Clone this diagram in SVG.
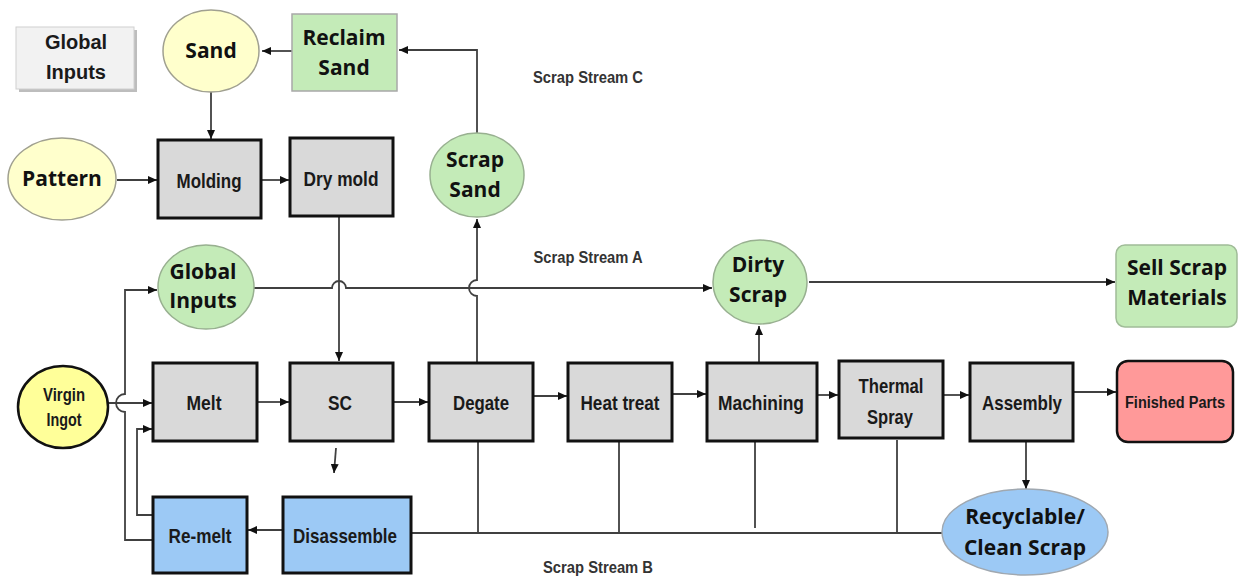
<svg xmlns="http://www.w3.org/2000/svg" width="1239" height="577" viewBox="0 0 1239 577">
<defs>
<marker id="arr" markerUnits="userSpaceOnUse" markerWidth="9" markerHeight="8" refX="9" refY="4" orient="auto">
<path d="M0,0 L9,4 L0,8 z" fill="#111"/>
</marker>
<style>
.box{fill:#d9d9d9;stroke:#111;stroke-width:3}
.blue{fill:#9cc9f5;stroke:#111;stroke-width:3}
.yel{fill:#ffffcc;stroke:#a0a090;stroke-width:1.5}
.grn{fill:#c4ebb8;stroke:#98b090;stroke-width:1.5}
.shadow{fill:#bdbdbd}
.lbl{font-family:"Liberation Sans Narrow","Liberation Sans",Arial,sans-serif;font-weight:bold;font-size:21px;fill:#1a1a1a;text-anchor:middle}
.sm{font-size:18px}
.xs{font-size:16px}
.rnd{font-family:"Open Sans","Noto Sans",sans-serif;font-weight:bold;font-size:21px;fill:#111;text-anchor:middle}
.ar{font-family:"Liberation Sans",Arial,sans-serif;font-weight:bold;font-size:20px;fill:#1a1a1a;text-anchor:middle}
.strm{font-family:"Liberation Sans Narrow","Liberation Sans",Arial,sans-serif;font-weight:bold;font-size:17px;fill:#333;text-anchor:middle}
.ln{fill:none;stroke:#404040;stroke-width:1.8}
</style>
</defs>
<rect width="1239" height="577" fill="#fff"/>

<g id="connectors">
<path class="ln" d="M292,51 H262" marker-end="url(#arr)"/>
<path class="ln" d="M477,133 V50 H399" marker-end="url(#arr)"/>
<path class="ln" d="M211,92 V139" marker-end="url(#arr)"/>
<path class="ln" d="M117,180 H157" marker-end="url(#arr)"/>
<path class="ln" d="M261,180 H289" marker-end="url(#arr)"/>
<path class="ln" d="M339,216 V361" marker-end="url(#arr)"/>
<path class="ln" d="M254,288 H332 A7,7 0 0 1 346,288 H712" marker-end="url(#arr)"/>
<path class="ln" d="M477,363 V296 A8,8 0 0 1 477,280 V219" marker-end="url(#arr)"/>
<path class="ln" d="M809,282 H1115" marker-end="url(#arr)"/>
<path class="ln" d="M759,363 V326" marker-end="url(#arr)"/>
<path class="ln" d="M108,403 H152" marker-end="url(#arr)"/>
<path class="ln" d="M153,540 H125 V412 A9,9 0 0 1 125,394 V290 H157" marker-end="url(#arr)"/>
<path class="ln" d="M153,515 H137 V429 H152" marker-end="url(#arr)"/>
<path class="ln" d="M257,402 H289" marker-end="url(#arr)"/>
<path class="ln" d="M393,402 H428" marker-end="url(#arr)"/>
<path class="ln" d="M533,396 H567" marker-end="url(#arr)"/>
<path class="ln" d="M672,394 H706" marker-end="url(#arr)"/>
<path class="ln" d="M817,395 H838" marker-end="url(#arr)"/>
<path class="ln" d="M943,395 H969" marker-end="url(#arr)"/>
<path class="ln" d="M1073,392 H1116" marker-end="url(#arr)"/>
<path class="ln" d="M1026,441 V489" marker-end="url(#arr)"/>
<path class="ln" d="M336,448 L334,473" marker-end="url(#arr)"/>
<path class="ln" d="M283,530 H248" marker-end="url(#arr)"/>
<path class="ln" d="M411,533 H942"/>
<path class="ln" d="M478,441 V533 M619,437 V533 M755,441 V528 M897,440 V533"/>
<text class="strm" x="588" y="83" textLength="110" lengthAdjust="spacingAndGlyphs">Scrap Stream C</text>
<text class="strm" x="588" y="263" textLength="109" lengthAdjust="spacingAndGlyphs">Scrap Stream A</text>
<text class="strm" x="598" y="573" textLength="110" lengthAdjust="spacingAndGlyphs">Scrap Stream B</text>
</g>

<g id="global-inputs-legend">
<rect x="19" y="30" width="118" height="62" class="shadow"/>
<rect x="16" y="27" width="118" height="62" fill="#f2f2f2" stroke="#d0d0d0" stroke-width="1"/>
<text class="ar" x="76" y="49">Global</text>
<text class="ar" x="76" y="79">Inputs</text>
</g>

<g id="sand">
<ellipse cx="211" cy="51" rx="48" ry="41" class="yel"/>
<text class="rnd" x="211" y="58">Sand</text>
</g>

<g id="reclaim-sand">
<rect x="292" y="14" width="105" height="77" fill="#c4ebb8" stroke="#a8a8a8" stroke-width="1.5"/>
<text class="rnd" x="344" y="45">Reclaim</text>
<text class="rnd" x="344" y="75">Sand</text>
</g>

<g id="pattern">
<ellipse cx="62" cy="179" rx="54" ry="41" class="yel"/>
<text class="rnd" x="62" y="186">Pattern</text>
</g>

<g id="molding">
<rect x="158" y="140" width="103" height="78" class="box"/>
<text class="lbl" x="209" y="188" textLength="65" lengthAdjust="spacingAndGlyphs">Molding</text>
</g>

<g id="dry-mold">
<rect x="290" y="138" width="103" height="78" class="box"/>
<text class="lbl" x="341" y="186" textLength="75" lengthAdjust="spacingAndGlyphs">Dry mold</text>
</g>

<g id="scrap-sand">
<ellipse cx="477" cy="175" rx="47" ry="42" class="grn"/>
<text class="rnd" x="475" y="167">Scrap</text>
<text class="rnd" x="475" y="197">Sand</text>
</g>

<g id="global-inputs">
<ellipse cx="206" cy="287" rx="48" ry="42" class="grn"/>
<text class="rnd" x="203" y="279">Global</text>
<text class="rnd" x="203" y="308">Inputs</text>
</g>

<g id="dirty-scrap">
<ellipse cx="760" cy="282" rx="47" ry="42" class="grn"/>
<text class="rnd" x="758" y="272">Dirty</text>
<text class="rnd" x="758" y="302">Scrap</text>
</g>

<g id="sell-scrap">
<rect x="1116" y="245" width="121" height="82" rx="9" fill="#c4ebb8" stroke="#a0bc98" stroke-width="1.5"/>
<text class="rnd" x="1177" y="275">Sell Scrap</text>
<text class="rnd" x="1177" y="305">Materials</text>
</g>

<g id="virgin-ingot">
<ellipse cx="63" cy="407" rx="45" ry="41" fill="#ffff99" stroke="#111" stroke-width="2.5"/>
<text class="lbl sm" x="64" y="401" textLength="42" lengthAdjust="spacingAndGlyphs">Virgin</text>
<text class="lbl sm" x="64" y="426" textLength="35" lengthAdjust="spacingAndGlyphs">Ingot</text>
</g>

<g id="melt">
<rect x="153" y="363" width="104" height="78" class="box"/>
<text class="lbl" x="204" y="410" textLength="35" lengthAdjust="spacingAndGlyphs">Melt</text>
</g>

<g id="sc">
<rect x="290" y="363" width="103" height="78" class="box"/>
<text class="lbl" x="340" y="410" textLength="24" lengthAdjust="spacingAndGlyphs">SC</text>
</g>

<g id="degate">
<rect x="429" y="363" width="104" height="78" class="box"/>
<text class="lbl" x="481" y="410" textLength="56" lengthAdjust="spacingAndGlyphs">Degate</text>
</g>

<g id="heat-treat">
<rect x="568" y="363" width="104" height="78" class="box"/>
<text class="lbl" x="620" y="410" textLength="79" lengthAdjust="spacingAndGlyphs">Heat treat</text>
</g>

<g id="machining">
<rect x="707" y="363" width="110" height="78" class="box"/>
<text class="lbl" x="761" y="410" textLength="86" lengthAdjust="spacingAndGlyphs">Machining</text>
</g>

<g id="thermal-spray">
<rect x="839" y="361" width="104" height="77" class="box"/>
<text class="lbl" x="891" y="393" textLength="65" lengthAdjust="spacingAndGlyphs">Thermal</text>
<text class="lbl" x="890" y="424" textLength="46" lengthAdjust="spacingAndGlyphs">Spray</text>
</g>

<g id="assembly">
<rect x="970" y="363" width="103" height="78" class="box"/>
<text class="lbl" x="1022" y="410" textLength="80" lengthAdjust="spacingAndGlyphs">Assembly</text>
</g>

<g id="finished-parts">
<rect x="1117" y="361" width="116" height="81" rx="11" fill="#ff9999" stroke="#111" stroke-width="2.5"/>
<text class="lbl xs" x="1175" y="408" textLength="100" lengthAdjust="spacingAndGlyphs">Finished Parts</text>
</g>

<g id="re-melt">
<rect x="153" y="497" width="94" height="76" class="blue"/>
<text class="lbl" x="200" y="543" textLength="63" lengthAdjust="spacingAndGlyphs">Re-melt</text>
</g>

<g id="disassemble">
<rect x="283" y="497" width="128" height="76" class="blue"/>
<text class="lbl" x="345" y="543" textLength="104" lengthAdjust="spacingAndGlyphs">Disassemble</text>
</g>

<g id="recyclable">
<ellipse cx="1025" cy="532" rx="83" ry="43" fill="#9cc9f5" stroke="#a0a8b0" stroke-width="1.5"/>
<text class="rnd" x="1025" y="524">Recyclable/</text>
<text class="rnd" x="1025" y="555">Clean Scrap</text>
</g>
</svg>
